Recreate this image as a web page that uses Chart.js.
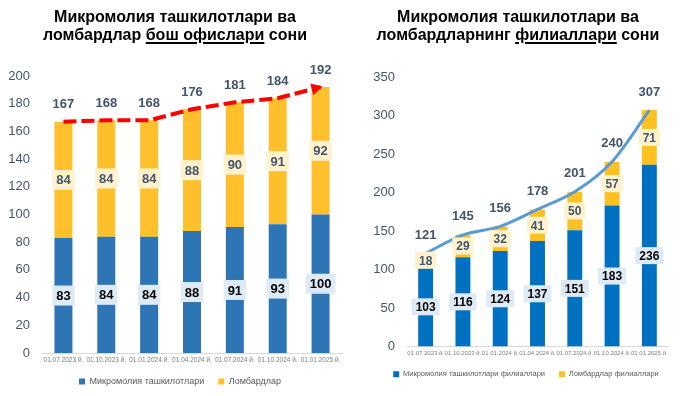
<!DOCTYPE html>
<html>
<head>
<meta charset="utf-8">
<script src="https://cdn.jsdelivr.net/npm/chart.js@4"></script>
<style>
  body { margin: 0; width: 680px; height: 396px; background: #fff; overflow: hidden; font-family: "Liberation Sans", Arial, sans-serif; }
  .box { position: absolute; top: 0; height: 396px; }
  .ttl { position: absolute; top: 8px; text-align: center; font-weight: bold; font-size: 16px; line-height: 18px; color: #000; }
  .ttl u { text-decoration-thickness: 2px; text-underline-offset: 2px; }
</style>
</head>
<body>
<div class="box" style="left:0;width:345px"><canvas id="headOffices"></canvas></div>
<div class="box" style="left:340px;width:340px"><canvas id="branches"></canvas></div>
<div class="ttl" style="left:0;width:350px">Микромолия ташкилотлари ва<br>ломбардлар <u>бош офислари</u> сони</div>
<div class="ttl" style="left:356px;width:324px">Микромолия ташкилотлари ва<br>ломбардларнинг <u>филиаллари</u> сони</div>
<script>
const periods = ['01.07.2023 й.', '01.10.2023 й.', '01.01.2024 й.', '01.04.2024 й.', '01.07.2024 й.', '01.10.2024 й.', '01.01.2025 й.'];

// head offices
const mfoOffices = [83, 84, 84, 88, 91, 93, 100];
const pawnOffices = [84, 84, 84, 88, 90, 91, 92];
const totalOffices = [167, 168, 168, 176, 181, 184, 192];

// branches
const mfoBranches = [103, 116, 124, 137, 151, 183, 236];
const pawnBranches = [18, 29, 32, 41, 50, 57, 71];
const totalBranches = [121, 145, 156, 178, 201, 240, 307];

const FONT = '"Liberation Sans", Arial, sans-serif';
const SLATE = '#44546A';

// value boxes inside segments, totals above, arrow at end of line
const barLabels = {
  id: 'barLabels',
  afterLayout(chart, args, opts) {
    // legend sits a bit right of the canvas centre
    if (chart.legend && opts.legendShift) {
      chart.legend.left += opts.legendShift;
      chart.legend.right += opts.legendShift;
    }
  },
  afterDatasetsDraw(chart, args, opts) {
    const ctx = chart.ctx;
    ctx.save();
    ctx.textAlign = 'center';
    ctx.textBaseline = 'middle';
    chart.data.datasets.forEach((ds, i) => {
      const meta = chart.getDatasetMeta(i);
      if (meta.type === 'bar') {
        ctx.font = 'bold ' + opts.size + 'px ' + FONT;
        meta.data.forEach((bar, j) => {
          const cy = (bar.y + bar.base) / 2;
          const txt = String(ds.data[j]);
          const w = ctx.measureText(txt).width + opts.padX * 2;
          ctx.fillStyle = ds.labelBg;
          ctx.fillRect(bar.x - w / 2, cy - opts.boxH / 2, w, opts.boxH);
          ctx.fillStyle = ds.labelColor;
          ctx.fillText(txt, bar.x, cy + 1);
        });
      } else {
        ctx.font = 'bold ' + opts.totalSize + 'px ' + FONT;
        ctx.fillStyle = SLATE;
        meta.data.forEach((pt, j) => {
          ctx.fillText(String(ds.data[j]), pt.x, pt.y - opts.totalOffset);
        });
        if (opts.arrow) {
          const a = meta.data[meta.data.length - 2], b = meta.data[meta.data.length - 1];
          const ang = Math.atan2(b.y - a.y, b.x - a.x);
          ctx.save();
          ctx.translate(b.x, b.y);
          ctx.rotate(ang);
          ctx.fillStyle = ds.borderColor;
          ctx.beginPath();
          ctx.moveTo(2, 0);
          ctx.lineTo(-9, -6);
          ctx.lineTo(-9, 6);
          ctx.closePath();
          ctx.fill();
          ctx.restore();
        }
      }
    });
    ctx.restore();
  }
};

function makeChart(id, cfg) {
  return new Chart(document.getElementById(id), {
    type: 'bar',
    data: {
      labels: periods,
      datasets: [
        {
          type: 'line',
          label: 'total',
          data: cfg.totals,
          order: 0,
          stack: 'total',
          borderColor: cfg.lineColor,
          borderWidth: cfg.lineWidth,
          borderDash: cfg.dash,
          tension: cfg.tension,
          pointRadius: 0,
          fill: false
        },
        {
          label: cfg.names[0],
          data: cfg.blue,
          order: 1,
          backgroundColor: cfg.blueColor,
          labelBg: cfg.blueBox,
          labelColor: '#000',
          barPercentage: cfg.barPct,
          categoryPercentage: 1
        },
        {
          label: cfg.names[1],
          data: cfg.yellow,
          order: 1,
          backgroundColor: cfg.yellowColor,
          labelBg: '#FFF2CC',
          labelColor: SLATE,
          barPercentage: cfg.barPct,
          categoryPercentage: 1
        }
      ]
    },
    options: {
      responsive: true,
      maintainAspectRatio: false,
      animation: false,
      layout: { padding: cfg.padding },
      plugins: {
        legend: {
          position: 'bottom',
          labels: {
            filter: item => item.text !== 'total',
            boxWidth: cfg.legendBox,
            boxHeight: cfg.legendBox,
            padding: cfg.legendPad,
            color: '#595959',
            font: { family: FONT, size: cfg.legendSize }
          }
        },
        tooltip: { enabled: false },
        barLabels: cfg.labels
      },
      scales: {
        x: {
          stacked: true,
          grid: { display: false, drawTicks: false },
          border: { color: '#D9D9D9' },
          afterFit: s => { s.height = 10; },
          ticks: {
            autoSkip: false,
            maxRotation: 0,
            minRotation: 0,
            padding: 3,
            color: '#7F7F7F',
            font: { family: FONT, size: cfg.xSize }
          }
        },
        y: {
          stacked: true,
          min: 0,
          max: cfg.max,
          grid: { display: false, drawTicks: false },
          border: { display: false },
          afterFit: s => { s.width = cfg.yWidth; },
          ticks: {
            stepSize: cfg.step,
            padding: 12,
            color: SLATE,
            font: { family: FONT, size: 13 }
          }
        }
      }
    },
    plugins: [barLabels]
  });
}

makeChart('headOffices', {
  names: ['Микромолия ташкилотлари', 'Ломбардлар'],
  blue: mfoOffices,
  yellow: pawnOffices,
  totals: totalOffices,
  blueColor: '#2E75B6',
  blueBox: '#DEEBF7',
  yellowColor: '#FFC02B',
  lineColor: '#FF0000',
  lineWidth: 4,
  dash: [13, 5],
  tension: 0,
  barPct: 0.42,
  max: 200,
  step: 20,
  yWidth: 42,
  xSize: 6.5,
  legendSize: 9,
  legendBox: 6,
  legendPad: 14,
  padding: { top: 76, right: 3, bottom: 0, left: 0 },
  labels: { size: 13, padX: 4, boxH: 20, totalSize: 13, totalOffset: 17, arrow: true, legendShift: 9 }
});

makeChart('branches', {
  names: ['Микромолия ташкилотлари филиаллари', 'Ломбардлар филиаллари'],
  blue: mfoBranches,
  yellow: pawnBranches,
  totals: totalBranches,
  blueColor: '#0070C0',
  blueBox: '#DEEBF7',
  yellowColor: '#FFC022',
  lineColor: '#5B9BD5',
  lineWidth: 3,
  dash: [],
  tension: 0.3,
  barPct: 0.40,
  max: 350,
  step: 50,
  yWidth: 67,
  xSize: 6,
  legendSize: 7.5,
  legendBox: 6,
  legendPad: 14,
  padding: { top: 77, right: 12, bottom: 8, left: 0 },
  labels: { size: 12, padX: 4, boxH: 17, totalSize: 13, totalOffset: 18, arrow: false, legendShift: 22 }
});
</script>
</body>
</html>
